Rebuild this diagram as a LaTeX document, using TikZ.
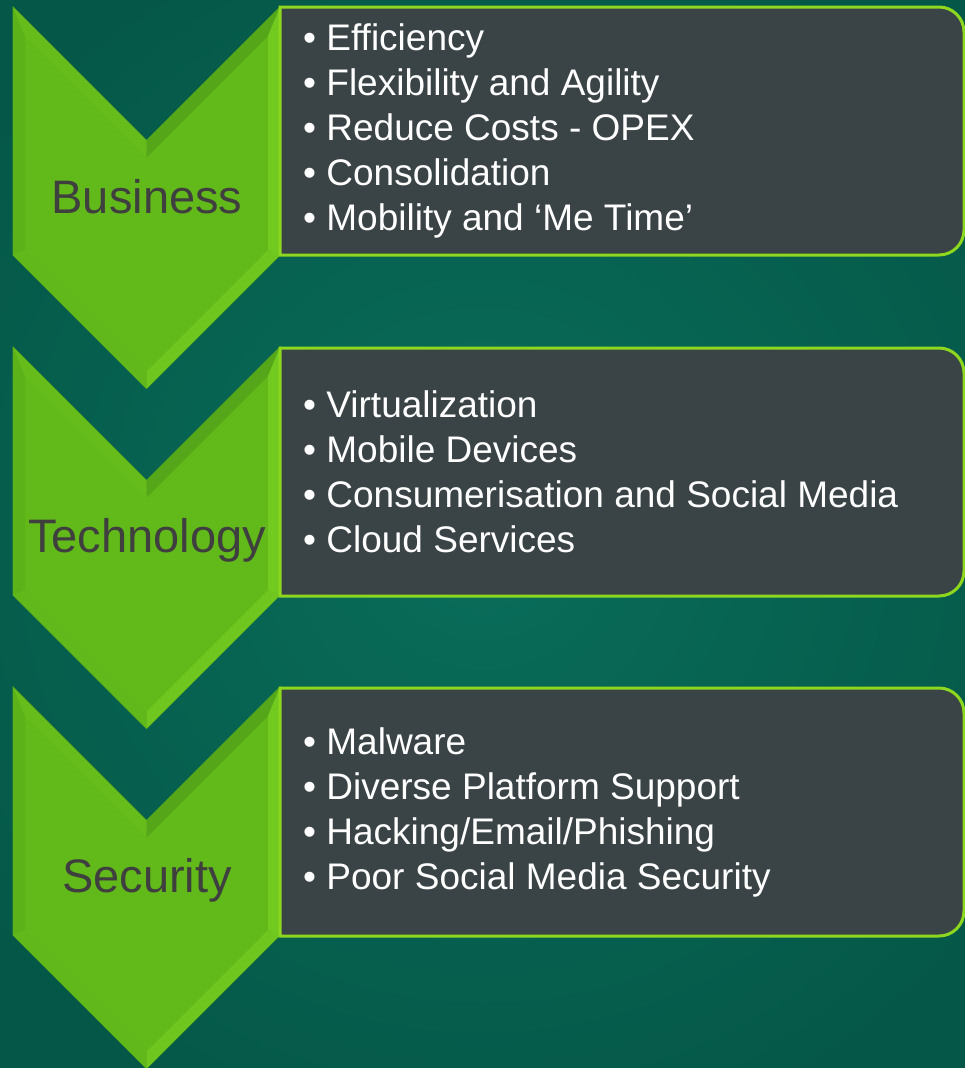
\documentclass[tikz,border=0pt]{standalone}
\usepackage{fontspec}
\setmainfont{Liberation Sans}
\usetikzlibrary{positioning}

\definecolor{bgcentre}{HTML}{096D5A}
\definecolor{bgedge}{HTML}{055848}
\definecolor{chevmain}{HTML}{62B91A}
\definecolor{chevdark}{HTML}{55A618}
\definecolor{chevlight}{HTML}{72C920}
\definecolor{chevside}{HTML}{5CB219}
\definecolor{chevrim}{HTML}{52A218}
\definecolor{panelgrey}{HTML}{3A4346}
\definecolor{panelrim}{HTML}{8DD71F}
\definecolor{stagegrey}{HTML}{3F3F3F}

\begin{document}
\begin{tikzpicture}[x=1pt, y=-1pt,
    bevel/.style={draw=none},
    panel/.style={fill=panelgrey, draw=panelrim, line width=3pt},
    stage/.style={font=\fontsize{47}{56}\selectfont, text=stagegrey, inner sep=0pt},
    items/.style={font=\fontsize{37}{45}\selectfont, text=white, align=left, anchor=west, inner sep=0pt}
]

% background
\useasboundingbox (0,0) rectangle (965,1068);
\shade[inner color=bgcentre, outer color=bgedge] (-150,-100) rectangle (1115,1168);

% chevrons, with a bevelled rim
\foreach \y in {7,347,687} {
  % outer outline
  \fill[chevmain, draw=chevrim, line width=1pt] (13,\y) -- (146.5,\y+133.5) -- (280,\y)
    -- (280,\y+248) -- (146.5,\y+381.5) -- (13,\y+248) -- cycle;
  % rim facets
  \fill[bevel, chevside] (13,\y) -- (13,\y+248) -- (25,\y+243) -- (25,\y+29) -- cycle;
  \fill[bevel, chevmain!80!chevlight] (13,\y) -- (146.5,\y+133.5) -- (146.5,\y+150.5) -- (25,\y+29) -- cycle;
  \fill[bevel, chevdark] (146.5,\y+133.5) -- (280,\y) -- (268,\y+29) -- (146.5,\y+150.5) -- cycle;
  \fill[bevel, chevlight] (280,\y) -- (280,\y+248) -- (268,\y+243) -- (268,\y+29) -- cycle;
  \fill[bevel, chevlight!80!chevmain] (280,\y+248) -- (146.5,\y+381.5) -- (146.5,\y+364.5) -- (268,\y+243) -- cycle;
  \fill[bevel, chevmain!80!chevside] (13,\y+248) -- (146.5,\y+381.5) -- (146.5,\y+364.5) -- (25,\y+243) -- cycle;
}

% panels, rounded on the right only
\foreach \y in {7,348,688} {
  \draw[panel] (280,\y) -- (939,\y) arc[start angle=-90, end angle=0, radius=25]
    -- (964,\y+223) arc[start angle=0, end angle=90, radius=25] -- (280,\y+248) -- cycle;
}

% stage labels
\node[stage] (business) at (147,197) {Business};
\node[stage] (technology) at (147,540) {Technology};
\node[stage] (security) at (147,880) {Security};

% bullet lists
\node[items] (businesslist) at (303,131) {\textbullet\ Efficiency\\
  \textbullet\ Flexibility and Agility\\
  \textbullet\ Reduce Costs - OPEX\\
  \textbullet\ Consolidation\\
  \textbullet\ Mobility and ‘Me Time’};
\node[items] (technologylist) at (303,472) {\textbullet\ Virtualization\\
  \textbullet\ Mobile Devices\\
  \textbullet\ Consumerisation and Social Media\\
  \textbullet\ Cloud Services};
\node[items] (securitylist) at (303,812) {\textbullet\ Malware\\
  \textbullet\ Diverse Platform Support\\
  \textbullet\ Hacking/Email/Phishing\\
  \textbullet\ Poor Social Media Security};

\end{tikzpicture}
\end{document}
